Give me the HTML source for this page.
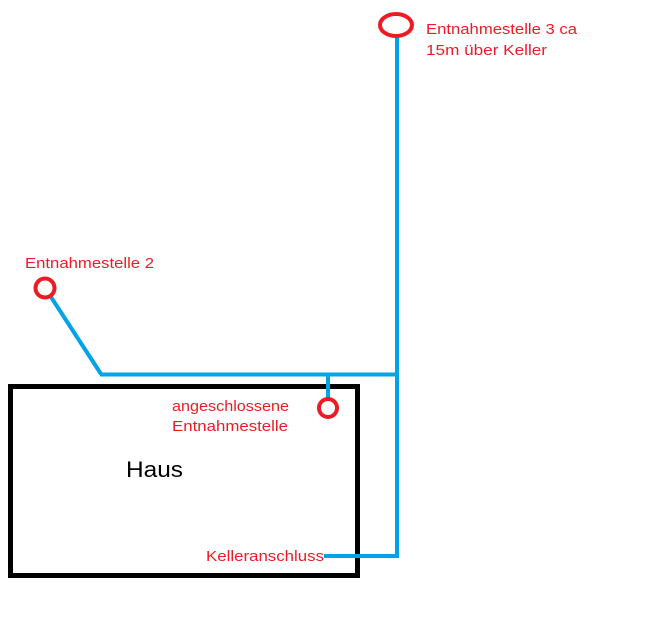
<!DOCTYPE html>
<html><head><style>html,body{margin:0;padding:0;background:#fff;}</style></head>
<body>
<svg width="668" height="636" xmlns="http://www.w3.org/2000/svg" style="display:block">
<rect x="0" y="0" width="668" height="636" fill="#fff"/>
<rect x="10.5" y="386.5" width="347" height="189" fill="none" stroke="#000" stroke-width="5"/>
<g stroke="#00a2e8" stroke-width="4" fill="none">
<line x1="397" y1="36" x2="397" y2="558"/>
<line x1="100" y1="374.5" x2="397" y2="374.5"/>
<polyline points="51,297 101,374"/>
<line x1="328" y1="374" x2="328" y2="400"/>
<line x1="324" y1="556" x2="397" y2="556"/>
</g>
<g stroke="#ed1c24" stroke-width="4" fill="none">
<ellipse cx="396" cy="25" rx="16" ry="11"/>
<circle cx="45" cy="288" r="9.5"/>
<circle cx="328" cy="408" r="9"/>
</g>
<g fill="#ed1c24" font-family="Liberation Sans, sans-serif" font-size="15" lengthAdjust="spacingAndGlyphs">
<text x="426" y="34" textLength="151" lengthAdjust="spacingAndGlyphs">Entnahmestelle 3 ca</text>
<text x="426" y="55" textLength="121" lengthAdjust="spacingAndGlyphs">15m über Keller</text>
<text x="25" y="268" textLength="129" lengthAdjust="spacingAndGlyphs">Entnahmestelle 2</text>
<text x="172" y="411" textLength="117" lengthAdjust="spacingAndGlyphs">angeschlossene</text>
<text x="172" y="431" textLength="116" lengthAdjust="spacingAndGlyphs">Entnahmestelle</text>
<text x="206" y="561" textLength="118" lengthAdjust="spacingAndGlyphs">Kelleranschluss</text>
</g>
<text x="126" y="477" font-family="Liberation Sans, sans-serif" font-size="22" fill="#000" textLength="57" lengthAdjust="spacingAndGlyphs">Haus</text>
</svg>
</body></html>
